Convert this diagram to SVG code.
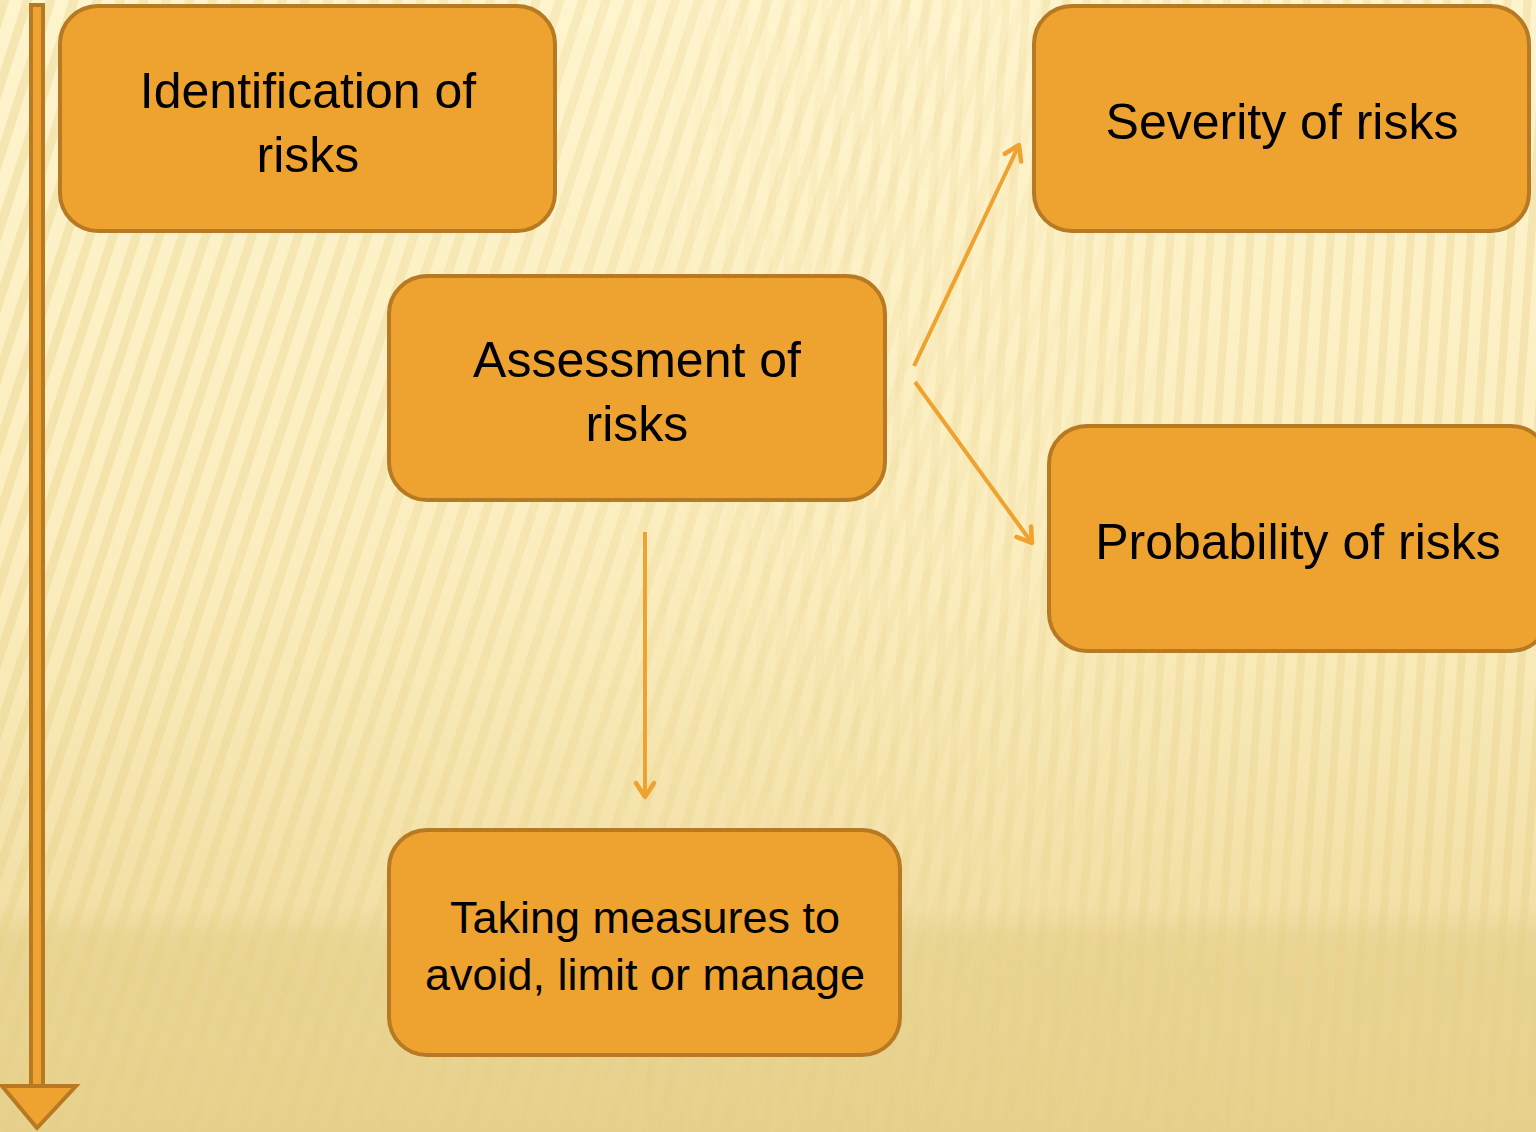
<svg xmlns="http://www.w3.org/2000/svg" width="1536" height="1132" viewBox="0 0 1536 1132">
<defs>
<linearGradient id="bg" x1="0" y1="0" x2="0" y2="1">
<stop offset="0" stop-color="#FEF4CD"/>
<stop offset="0.5" stop-color="#FBEDBE"/>
<stop offset="0.8" stop-color="#F2E0A6"/>
<stop offset="0.83" stop-color="#E9D594"/>
<stop offset="1" stop-color="#E6D18C"/>
</linearGradient>
<pattern id="stripesL" width="22" height="22" patternUnits="userSpaceOnUse" patternTransform="rotate(18)">
<rect x="0" y="0" width="9" height="22" fill="#E8CF86" opacity="0.38"/>
</pattern>
<pattern id="stripesR" width="20" height="20" patternUnits="userSpaceOnUse" patternTransform="rotate(4)">
<rect x="0" y="0" width="8" height="20" fill="#E8CF86" opacity="0.35"/>
</pattern>
<linearGradient id="fadeL" x1="0" y1="0" x2="1" y2="0">
<stop offset="0" stop-color="#fff" stop-opacity="1"/>
<stop offset="0.55" stop-color="#fff" stop-opacity="0.5"/>
<stop offset="0.8" stop-color="#fff" stop-opacity="0"/>
</linearGradient>
<linearGradient id="fadeR" x1="0" y1="0" x2="1" y2="0">
<stop offset="0.4" stop-color="#fff" stop-opacity="0"/>
<stop offset="0.75" stop-color="#fff" stop-opacity="0.8"/>
<stop offset="1" stop-color="#fff" stop-opacity="1"/>
</linearGradient>
<mask id="mL"><rect width="1536" height="1132" fill="url(#fadeL)"/></mask>
<mask id="mR"><rect width="1536" height="1132" fill="url(#fadeR)"/></mask>
<marker id="arr" viewBox="0 0 20 20" refX="15" refY="9" markerWidth="20" markerHeight="20" markerUnits="userSpaceOnUse" orient="auto" overflow="visible">
<path d="M1,0 L15,9 L1,18" fill="none" stroke="#EEA230" stroke-width="4.5" stroke-linecap="round" stroke-linejoin="round"/>
</marker>
<style>
.box{fill:#EEA230;stroke:#B77A23;stroke-width:4}
.lbl{font-family:"Liberation Sans",Arial,sans-serif;fill:#000;text-anchor:middle}
.big{font-size:50px}
.mid{font-size:45px}
.conn{stroke:#EEA230;stroke-width:4;fill:none}
</style>
</defs>
<rect width="1536" height="1132" fill="url(#bg)"/>
<rect width="1536" height="1132" fill="url(#stripesL)" mask="url(#mL)"/>
<rect width="1536" height="1132" fill="url(#stripesR)" mask="url(#mR)"/>
<g id="timeline">
<rect x="31" y="5" width="12" height="1082" fill="#EEA230" stroke="#B77A23" stroke-width="4"/>
<path d="M2,1086 L76,1086 L37,1128 Z" fill="#EEA230" stroke="#B77A23" stroke-width="4" stroke-linejoin="miter"/>
</g>
<g id="connectors">
<line class="conn" x1="914" y1="366" x2="1019" y2="145" marker-end="url(#arr)"/>
<line class="conn" x1="915" y1="382" x2="1032" y2="543" marker-end="url(#arr)"/>
<line class="conn" x1="645" y1="532" x2="645" y2="797" marker-end="url(#arr)"/>
</g>
<g id="identification">
<rect class="box" x="60" y="6" width="495" height="225" rx="38"/>
<text class="lbl big" x="308" y="108">Identification of</text>
<text class="lbl big" x="308" y="172">risks</text>
</g>
<g id="assessment">
<rect class="box" x="389" y="276" width="496" height="224" rx="38"/>
<text class="lbl big" x="637" y="377">Assessment of</text>
<text class="lbl big" x="637" y="441">risks</text>
</g>
<g id="severity">
<rect class="box" x="1034" y="6" width="495" height="225" rx="38"/>
<text class="lbl big" x="1282" y="139">Severity of risks</text>
</g>
<g id="probability">
<rect class="box" x="1049" y="426" width="500" height="225" rx="38"/>
<text class="lbl big" x="1298" y="559">Probability of risks</text>
</g>
<g id="measures">
<rect class="box" x="389" y="830" width="511" height="225" rx="38"/>
<text class="lbl mid" x="645" y="933">Taking measures to</text>
<text class="lbl mid" x="645" y="990">avoid, limit or manage</text>
</g>
</svg>
